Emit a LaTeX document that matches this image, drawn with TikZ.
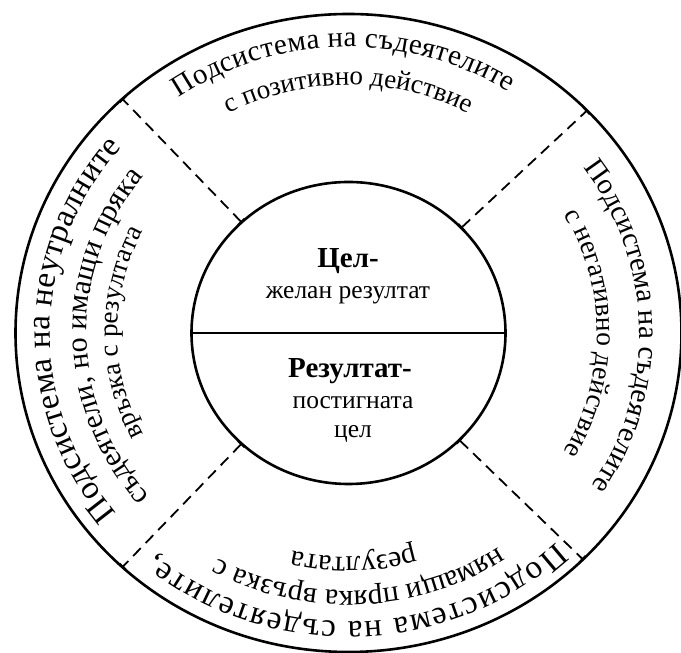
\documentclass[tikz,border=0pt]{standalone}
\usepackage{fontspec}
\setmainfont{Liberation Serif}
\usetikzlibrary{shapes.geometric,decorations.text,arrows.meta,calc}
\newcommand\boldcore{\fontsize{29}{32}\selectfont\bfseries}
\newcommand\plaincore{\fontsize{25.5}{28}\selectfont}
\begin{document}
\begin{tikzpicture}[x=1pt,y=1pt,
  ringline/.style={line width=2.6pt},
  divider/.style={line width=1.8pt, dash pattern=on 11pt off 7pt,
    {Bar[width=9pt,line width=1.6pt]}-{Bar[width=9pt,line width=1.6pt]}},
  ringtext/.style 2 args={decorate, decoration={text along path, text align=center,
    text={|\fontsize{#1}{#1}\selectfont|#2}}},
  fittext/.style 2 args={decorate, decoration={text along path, text align=fit to path,
    text={|\fontsize{#1}{#1}\selectfont|#2}}},
  coretext/.style={anchor=base, inner sep=0pt, font=\plaincore},
]
\fill[white] (0,0) rectangle (681,653);
\useasboundingbox (0,0) rectangle (681,653);
\coordinate (C) at (348.5,320);

\node[ellipse, draw, ringline, minimum width=666pt, minimum height=638pt, inner sep=0pt, outer sep=0pt] (outer) at (C) {};
\node[ellipse, draw, ringline, minimum width=314pt, minimum height=302pt, inner sep=0pt, outer sep=0pt] (inner) at (C) {};
\draw[line width=1.8pt] (inner.west) -- (inner.east);

\draw[divider] (inner.134) -- (outer.134);
\draw[divider] (inner.43) -- (outer.43);
\draw[divider] (inner.226) -- (outer.226);
\draw[divider] (inner.-44) -- (outer.-44);

% top
\path[fittext={29}{Подсистема на съдеятелите}] ($(C)+(124.6:298.5pt and 286pt)$) arc[start angle=124.6,end angle=57.5,x radius=298.5pt,y radius=286pt];
\path[ringtext={27}{с позитивно действие}] ($(C)+(150:259pt and 248pt)$) arc[start angle=150,end angle=30,x radius=259pt,y radius=248pt];
% right
\path[fittext={29}{Подсистема на съдеятелите}] ($(C)+(36.3:291pt and 279pt)$) arc[start angle=36.3,end angle=-32.7,x radius=291pt,y radius=279pt];
\path[ringtext={27.5}{с негативно действие}] ($(C)+(60:248.5pt and 238pt)$) arc[start angle=60,end angle=-60,x radius=248.5pt,y radius=238pt];
% bottom
\path[fittext={33}{Подсистема на съдеятелите,}] ($(C)+(-46.5:301.5pt and 289pt)$) arc[start angle=-46.5,end angle=-129.8,x radius=301.5pt,y radius=289pt];
\path[ringtext={30}{нямащи пряка връзка с}] ($(C)+(-27.5:269pt and 258pt)$) arc[start angle=-27.5,end angle=-147.5,x radius=269pt,y radius=258pt];
\path[ringtext={30}{резултата}] ($(C)+(-28.6:234pt and 224pt)$) arc[start angle=-28.6,end angle=-148.6,x radius=234pt,y radius=224pt];
% left
\path[fittext={33}{Подсистема на неутралните}] ($(C)+(219:298.5pt and 286pt)$) arc[start angle=219,end angle=139.5,x radius=298.5pt,y radius=286pt];
\path[ringtext={30}{съдеятели, но имащи пряка}] ($(C)+(241:262pt and 251pt)$) arc[start angle=241,end angle=121,x radius=262pt,y radius=251pt];
\path[ringtext={27}{връзка с резултата}] ($(C)+(240:231pt and 221pt)$) arc[start angle=240,end angle=120,x radius=231pt,y radius=221pt];

% core
\node[coretext, font=\boldcore] (goal) at (348,385) {Цел-};
\node[coretext] (goaldef) at (348,354) {желан резултат};
\node[coretext, font=\boldcore] (res) at (350,275) {Резултат-};
\node[coretext] (resdef1) at (353,244) {постигната};
\node[coretext] (resdef2) at (353,215) {цел};
\end{tikzpicture}
\end{document}
